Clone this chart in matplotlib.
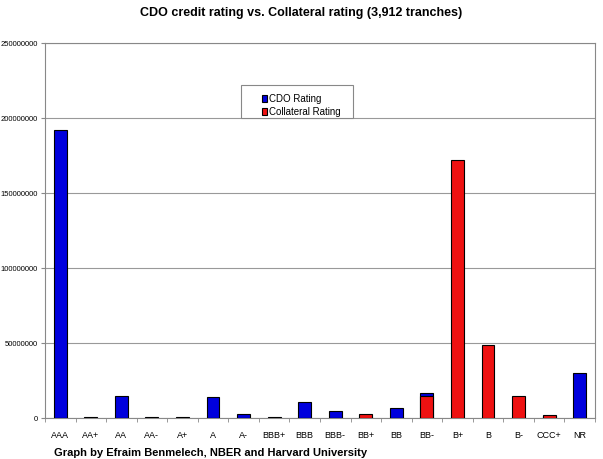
import matplotlib.pyplot as plt
from matplotlib.patches import Rectangle
import numpy as np

plt.rcParams['font.family'] = ['Liberation Sans', 'DejaVu Sans']

ratings = ["AAA", "AA+", "AA", "AA-", "A+", "A", "A-", "BBB+", "BBB", "BBB-",
           "BB+", "BB", "BB-", "B+", "B", "B-", "CCC+", "NR"]
cdo_rating = [192000000, 500000, 14700000, 800000, 600000, 14000000, 2500000, 500000,
              10700000, 4500000, 1000000, 6500000, 16500000, 0, 0, 0, 1500000, 30000000]
collateral_rating = [0, 0, 0, 0, 0, 0, 0, 0, 0, 0,
                     2500000, 0, 15000000, 172000000, 48500000, 15000000, 2000000, 0]

fig = plt.figure(figsize=(6.03, 4.59), dpi=100)
ax = fig.add_axes([0.0746, 0.0893, 0.912, 0.8170])

x = np.arange(len(ratings))
ax.bar(x, cdo_rating, width=0.42, color="#0000dd", edgecolor="black", linewidth=0.8,
       label="CDO Rating", zorder=3)
ax.bar(x, collateral_rating, width=0.42, color="#ee1111", edgecolor="black", linewidth=0.8,
       label="Collateral Rating", zorder=4)

ax.set_xlim(-0.5, len(ratings) - 0.5)
ax.set_ylim(0, 250000000)
ax.set_yticks(np.arange(0, 250000001, 50000000))
ax.set_yticklabels([str(v) for v in range(0, 250000001, 50000000)], fontsize=5.5)
ax.set_xticks(x)
ax.set_xticklabels(ratings, fontsize=6.5)
ax.set_xticks(np.arange(-0.5, len(ratings)), minor=True)
ax.tick_params(axis="x", which="major", length=0, pad=9)
ax.tick_params(axis="x", which="minor", length=3, color="#888888")
ax.tick_params(axis="y", length=3, color="#888888", pad=2)
ax.yaxis.grid(True, color="#999999", linewidth=0.8, zorder=0)
for s in ax.spines.values():
    s.set_color("#888888")

# Excel-like legend box, wider than its contents
ax.add_patch(Rectangle((0.356, 0.80), 0.204, 0.088, transform=ax.transAxes,
                       facecolor="white", edgecolor="#888888", linewidth=0.8, zorder=5))
leg = ax.legend(loc="upper left", bbox_to_anchor=(0.378, 0.888), fontsize=7, frameon=False,
                handlelength=0.6, handleheight=0.7, handletextpad=0.2, borderpad=0.4,
                labelspacing=0.35)
leg.set_zorder(6)

fig.text(0.5, 0.985, "CDO credit rating vs. Collateral rating (3,912 tranches)",
         ha="center", va="top", fontsize=9, fontweight="bold")
fig.text(0.09, 0.003, "Graph by Efraim Benmelech, NBER and Harvard University",
         ha="left", va="bottom", fontsize=8, fontweight="bold")

fig.savefig("out.png", dpi=100)
